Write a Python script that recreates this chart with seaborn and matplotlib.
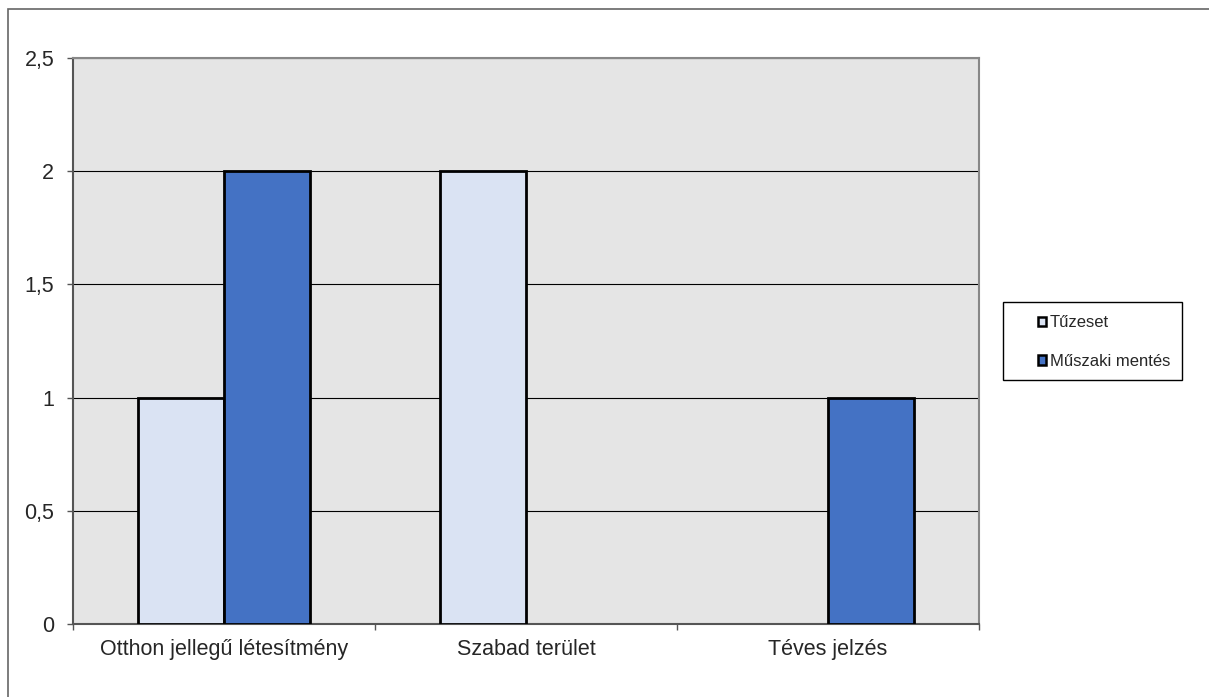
import pandas as pd
import matplotlib
matplotlib.use('Agg')
import matplotlib.pyplot as plt
import seaborn as sns
from matplotlib.ticker import FuncFormatter
from matplotlib.patches import Rectangle

categories = ['Otthon jellegű létesítmény', 'Szabad terület', 'Téves jelzés']
tuzeset = [1, 2, 0]
muszaki = [2, 0, 1]
series_names = ['Tűzeset', 'Műszaki mentés']
colors = ['#DAE3F3', '#4472C4']

df = pd.DataFrame({
    'kategoria': categories * 2,
    'ertek': tuzeset + muszaki,
    'sorozat': [series_names[0]] * 3 + [series_names[1]] * 3,
})

sns.set_style('white')
plt.rcParams['font.family'] = ['Liberation Sans', 'DejaVu Sans']

W, H = 1209, 697
fig = plt.figure(figsize=(W / 100, H / 100), dpi=100)
ax = fig.add_axes([73 / W, 1 - 624 / H, (979 - 73) / W, (624 - 58) / H])

sns.barplot(data=df, x='kategoria', y='ertek', hue='sorozat', palette=colors,
            width=0.57, edgecolor='black', linewidth=2, saturation=1, ax=ax,
            legend=False, zorder=3)

# Excel does not draw empty bars
for p in ax.patches:
    if p.get_height() == 0:
        p.set_linewidth(0)

ax.set_facecolor('#E5E5E5')
ax.set_xlim(-0.5, 2.5)
ax.set_ylim(0, 2.5)
ax.set_yticks([0, 0.5, 1, 1.5, 2, 2.5])
ax.yaxis.set_major_formatter(FuncFormatter(lambda v, _: ('%g' % v).replace('.', ',')))
ax.yaxis.grid(True, color='#000000', linewidth=0.8, zorder=0)
ax.set_axisbelow(True)
ax.set_xlabel('')
ax.set_ylabel('')

# category boundary ticks on x axis
ax.set_xticks([0, 1, 2])
ax.set_xticklabels(categories, fontsize=15.5)
ax.set_xticks([-0.5, 0.5, 1.5, 2.5], minor=True)
ax.tick_params(axis='x', which='major', length=0, pad=11)
ax.tick_params(axis='x', which='minor', length=4, width=1, color='#555555', direction='out', bottom=True)
ax.tick_params(axis='y', length=4.5, width=1, color='#555555', direction='out', left=True, labelsize=15.5, pad=9)

for side in ['left', 'bottom']:
    ax.spines[side].set_color('#555555')
    ax.spines[side].set_linewidth(1.5)
for side in ['top', 'right']:
    ax.spines[side].set_color('#888888')
    ax.spines[side].set_linewidth(1.5)

# legend (frame drawn separately)
handles = [Rectangle((0, 0), 1, 1, facecolor=c, edgecolor='black', linewidth=1.8) for c in colors]
leg = fig.legend(handles, series_names, loc='center left',
                 bbox_to_anchor=(1038 / W, 1 - 342 / H), fontsize=12,
                 frameon=False, handlelength=0.5, handleheight=0.5, handletextpad=0.2,
                 labelspacing=1.4, borderpad=0, borderaxespad=0)
fig.add_artist(Rectangle((1003 / W, 1 - 380 / H), (1182 - 1003) / W, (380 - 302) / H,
                         transform=fig.transFigure, fill=False, edgecolor='black', linewidth=1))

# outer chart border
fig.add_artist(Rectangle((8 / W, -0.1), 1.2, 1 - 9 / H + 0.1, transform=fig.transFigure,
                         fill=False, edgecolor='#666666', linewidth=1.2))

plt.savefig('out.png', dpi=100)
